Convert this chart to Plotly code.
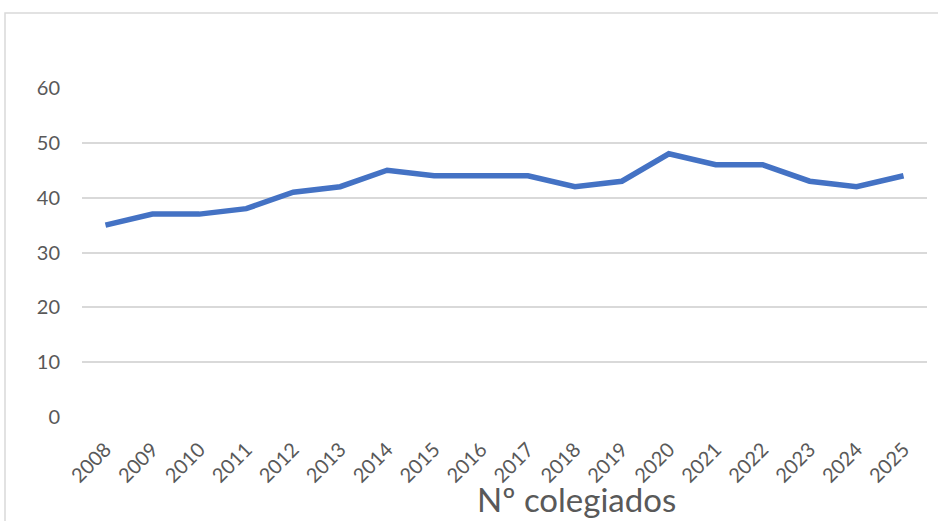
import plotly.graph_objects as go

years = ["2008", "2009", "2010", "2011", "2012", "2013", "2014", "2015", "2016",
         "2017", "2018", "2019", "2020", "2021", "2022", "2023", "2024", "2025"]
colegiados = [35, 37, 37, 38, 41, 42, 45, 44, 44, 44, 42, 43, 48, 46, 46, 43, 42, 44]
y_ticks = [0, 10, 20, 30, 40, 50, 60]

fig = go.Figure()
fig.add_trace(
    go.Scatter(
        x=years,
        y=colegiados,
        mode="lines",
        line=dict(color="#4472C4", width=5.5),
        name="Nº colegiados",
    )
)

fig.update_layout(
    width=938,
    height=521,
    plot_bgcolor="#FFFFFF",
    paper_bgcolor="#FFFFFF",
    showlegend=False,
    margin=dict(l=82, r=11, t=88, b=104),
    font=dict(family="Lato, Open Sans, sans-serif", color="#595959", size=20),
)

fig.update_xaxes(
    type="category",
    range=[-0.5, len(years) - 0.5],
    tickangle=-45,
    showgrid=False,
    showline=False,
    ticks="",
    ticklabelstandoff=16,
    tickfont=dict(size=20),
)
fig.update_yaxes(
    range=[0, 60],
    tickvals=y_ticks,
    showgrid=True,
    gridcolor="#D9D9D9",
    gridwidth=1.5,
    zeroline=False,
    ticks="",
    ticklabelstandoff=21,
    tickfont=dict(size=20),
)

# chart-area border (runs past the right and bottom of the view)
fig.add_shape(
    type="rect",
    xref="paper", yref="paper",
    x0=(5 - 82) / 845, x1=1.1,
    y0=-0.6, y1=(417 - 13) / 329,
    line=dict(color="#D9D9D9", width=1.5),
    fillcolor="rgba(0,0,0,0)",
    layer="below",
)

fig.add_annotation(
    text="Nº colegiados",
    xref="paper", yref="paper",
    x=(576 - 82) / 845, y=(417 - 521) / 329,
    xanchor="center", yanchor="bottom",
    showarrow=False,
    font=dict(size=33, color="#595959"),
)

fig.write_html(
    "out.html",
    config={"displayModeBar": False},
    post_script="document.body.style.margin='0';",
)
